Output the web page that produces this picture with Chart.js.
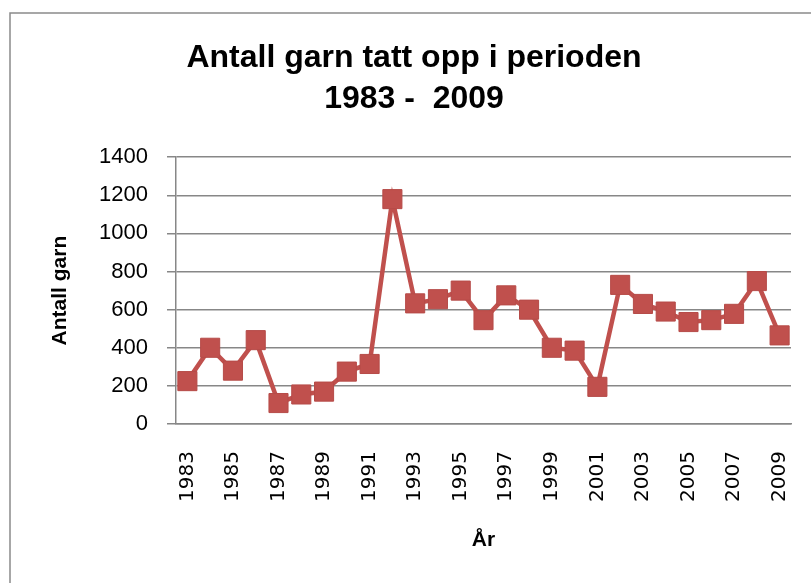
<!DOCTYPE html>
<html>
<head>
<meta charset="utf-8">
<script src="https://cdn.jsdelivr.net/npm/chart.js@4/dist/chart.umd.min.js"></script>
<style>
  html, body { margin: 0; padding: 0; background: #fff; }
  #wrap { position: relative; width: 811px; height: 583px; overflow: hidden; }
</style>
</head>
<body>
<div id="wrap"><canvas id="chart"></canvas></div>
<script>
const years = ['1983','1984','1985','1986','1987','1988','1989','1990','1991','1992','1993','1994','1995',
  '1996','1997','1998','1999','2000','2001','2002','2003','2004','2005','2006','2007','2008','2009'];
const garn = [225, 400, 280, 440, 110, 155, 170, 275, 315, 1180, 633, 655, 700,
  545, 675, 600, 400, 385, 195, 730, 630, 590, 535, 545, 578, 750, 465];
const yTicks = { min: 0, max: 1400, step: 200 };
const titleLines = ['Antall garn tatt opp i perioden', '1983 -  2009'];

const red = '#C0504D';
const grey = '#878787';

// ramme rundt hele diagrammet (som i Excel)
const frame = {
  id: 'frame',
  beforeDraw(chart) {
    const ctx = chart.ctx;
    ctx.save();
    ctx.fillStyle = '#fff';
    ctx.fillRect(0, 0, chart.width, chart.height);
    ctx.strokeStyle = '#8a8a8a';
    ctx.lineWidth = 1.5;
    ctx.strokeRect(10, 13, 808, 600);
    ctx.restore();
  }
};

new Chart(document.getElementById('chart'), {
  type: 'line',
  data: {
    labels: years,
    datasets: [{
      label: 'Antall garn',
      data: garn,
      borderColor: red,
      backgroundColor: red,
      borderWidth: 4.5,
      pointStyle: 'rect',
      pointRadius: 13.5,
      pointBorderWidth: 1,
      pointBorderColor: '#B64B48',
      pointBackgroundColor: red,
      tension: 0
    }]
  },
  options: {
    responsive: true,
    maintainAspectRatio: false,
    animation: false,
    layout: { padding: { left: 37, right: 20, top: 0, bottom: 0 } },
    plugins: {
      legend: { display: false },
      tooltip: { enabled: false },
      title: {
        display: true,
        text: titleLines,
        color: '#000',
        font: { family: 'Liberation Sans', size: 32, weight: 'bold', lineHeight: 1.3 },
        padding: { top: 37, bottom: 37 }
      }
    },
    scales: {
      x: {
        offset: true,
        grid: { display: false, drawTicks: false },
        border: { display: true, color: grey, width: 1.5 },
        ticks: {
          autoSkip: false,
          maxRotation: 90,
          minRotation: 90,
          padding: 27,
          color: '#000',
          font: { family: '"DejaVu Sans", sans-serif', size: 20 },
          callback: (v, i) => (i % 2 === 0 ? years[i] : '')
        },
        title: {
          display: true,
          text: 'År',
          color: '#000',
          font: { family: 'Liberation Sans', size: 21, weight: 'bold', lineHeight: 1.2 },
          padding: { top: 0, bottom: 30 }
        },
        afterFit: (scale) => {
          scale.height = 159;
          scale.paddingLeft = 0;
          scale.paddingRight = 0;
        }
      },
      y: {
        min: yTicks.min,
        max: yTicks.max,
        grid: { color: grey, lineWidth: 1.5, tickLength: 9 },
        border: { display: true, color: grey, width: 1.5 },
        ticks: {
          stepSize: yTicks.step,
          padding: 19,
          color: '#000',
          font: { family: 'Liberation Sans', size: 22 },
          callback: (v) => String(v)
        },
        title: {
          display: true,
          text: 'Antall garn',
          color: '#000',
          font: { family: 'Liberation Sans', size: 21, weight: 'bold', lineHeight: 1.2 },
          padding: { top: 11, bottom: 0 }
        },
        afterFit: (scale) => { scale.width = 139; }
      }
    }
  },
  plugins: [frame]
});
</script>
</body>
</html>
